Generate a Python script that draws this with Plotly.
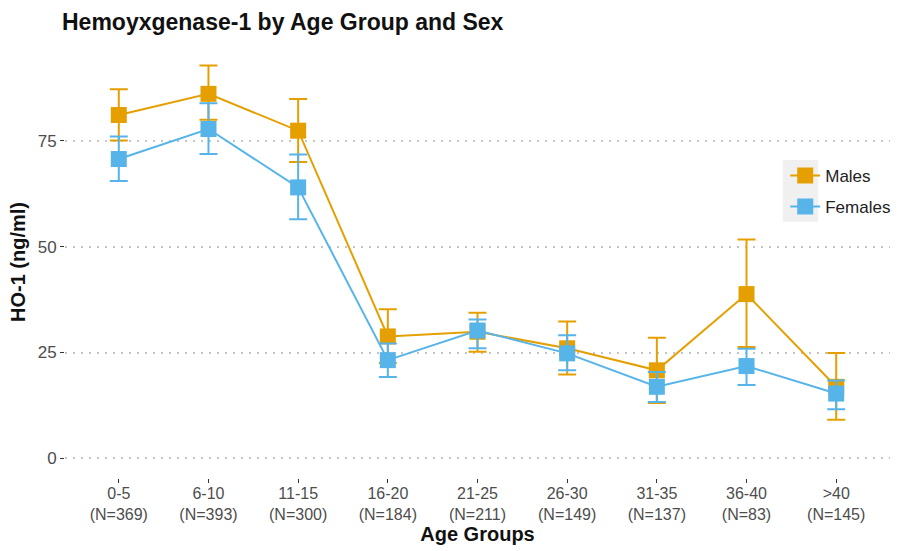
import plotly.graph_objects as go
import numpy as np

age_groups = ["0-5", "6-10", "11-15", "16-20", "21-25", "26-30", "31-35", "36-40", ">40"]
n_counts = [369, 393, 300, 184, 211, 149, 137, 83, 145]

males_mean = [81.1, 86.1, 77.4, 28.8, 29.9, 26.0, 20.8, 38.8, 16.9]
males_upper = [87.2, 92.8, 84.9, 35.2, 34.4, 32.3, 28.5, 51.7, 24.9]
males_lower = [75.1, 80.0, 70.0, 22.5, 25.2, 19.8, 13.1, 26.3, 9.1]

females_mean = [70.7, 77.8, 64.0, 23.2, 30.2, 24.8, 16.9, 21.8, 15.3]
females_upper = [76.0, 83.9, 71.8, 27.1, 32.8, 29.1, 20.4, 25.9, 18.4]
females_lower = [65.5, 71.9, 56.5, 19.2, 26.0, 20.8, 13.3, 17.3, 11.6]

tick_text = [f"{a}<br>(N={n})" for a, n in zip(age_groups, n_counts)]
xpos = list(range(len(age_groups)))

ORANGE = "#E69F00"
BLUE = "#56B4E9"

fig = go.Figure()

def add_series(name, mean, upper, lower, color):
    m = np.array(mean)
    fig.add_trace(go.Scatter(
        x=xpos, y=mean, name=name, legendgroup=name, mode="lines+markers",
        line=dict(color=color, width=2),
        marker=dict(symbol="square", size=16, color=color),
        error_y=dict(type="data", symmetric=False,
                     array=list(np.array(upper) - m),
                     arrayminus=list(m - np.array(lower)),
                     color=color, thickness=2, width=9),
    ))

add_series("Males", males_mean, males_upper, males_lower, ORANGE)
add_series("Females", females_mean, females_upper, females_lower, BLUE)

# legend key background
fig.add_shape(type="rect", xref="paper", yref="paper",
              x0=0.870, x1=0.913, y0=0.593, y1=0.736,
              fillcolor="#f0f0f0", line=dict(width=0), layer="below")

fig.update_layout(
    width=897, height=551,
    margin=dict(l=65, r=7, t=46, b=73, autoexpand=False),
    paper_bgcolor="white", plot_bgcolor="white",
    font=dict(family="Liberation Sans, Arial, sans-serif", color="#222"),
    title=dict(text="<b>Hemoyxgenase-1 by Age Group and Sex</b>",
               x=62/897, xanchor="left", y=1 - 22/551, yanchor="middle",
               font=dict(size=23, color="#111")),
    showlegend=True,
    legend=dict(x=0.873, y=0.741, xanchor="left", yanchor="top",
                bgcolor="rgba(0,0,0,0)", font=dict(size=17, color="#222"),
                tracegroupgap=6, itemwidth=30),
    xaxis=dict(
        range=[-0.6, 8.6], tickmode="array", tickvals=xpos, ticktext=tick_text,
        showgrid=False, zeroline=False, showline=False,
        ticks="outside", ticklen=4, tickcolor="#333", tickwidth=1,
        tickfont=dict(size=16, color="#4d4d4d"),
        ticklabelstandoff=-3,
        title=dict(text="<b>Age Groups</b>", font=dict(size=20, color="#111"), standoff=2),
    ),
    yaxis=dict(
        range=[-4.64, 97.4], tickvals=[0, 25, 50, 75],
        showgrid=True, gridcolor="#c4c4c4", griddash="2px,6px", gridwidth=1.5,
        zeroline=False, showline=False,
        ticks="outside", ticklen=4, tickcolor="#333", tickwidth=1,
        tickfont=dict(size=17, color="#4d4d4d"),
        title=dict(text="<b>HO-1 (ng/ml)</b>", font=dict(size=20, color="#111"), standoff=6),
    ),
)

fig.write_html("out.html")
